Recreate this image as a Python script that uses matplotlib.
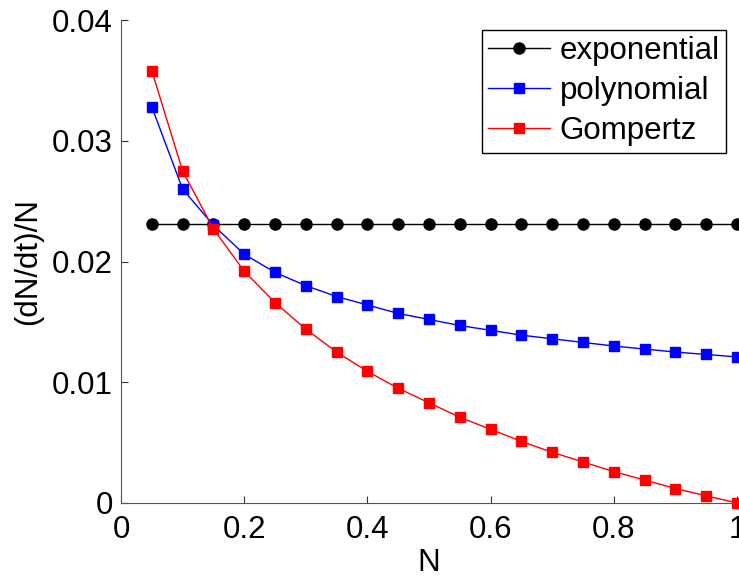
import numpy as np
import matplotlib
matplotlib.use("Agg")
import matplotlib.pyplot as plt

plt.rcParams['font.family'] = ['Liberation Sans', 'DejaVu Sans']

# data
N = np.arange(1, 21) * 0.05
exponential = [0.0231] * 20
polynomial = [0.0328, 0.0260, 0.0230, 0.0206, 0.0191, 0.0180, 0.0171, 0.0164,
              0.0157, 0.0152, 0.0147, 0.0143, 0.0139, 0.0136, 0.0133, 0.0130,
              0.01275, 0.0125, 0.0123, 0.0121]
gompertz = [0.0358, 0.0275, 0.0227, 0.0192, 0.0166, 0.0144, 0.0125, 0.0109,
            0.0095, 0.0083, 0.0071, 0.0061, 0.0051, 0.0042, 0.0034, 0.0026,
            0.0019, 0.0012, 0.0006, 0.0000]

x_ticks = [0, 0.2, 0.4, 0.6, 0.8, 1]
x_labels = ['0', '0.2', '0.4', '0.6', '0.8', '1']
y_ticks = [0, 0.01, 0.02, 0.03, 0.04]
y_labels = ['0', '0.01', '0.02', '0.03', '0.04']

fs = 22.5

fig = plt.figure(figsize=(7.39, 5.77), dpi=100)
ax = fig.add_axes([121 / 739, 74 / 577, 616 / 739, 483 / 577])

ax.plot(N, exponential, '-o', color='black', lw=1, ms=8, label='exponential', clip_on=False)
ax.plot(N, polynomial, '-s', color='blue', lw=1, ms=7, label='polynomial', clip_on=False)
ax.plot(N, gompertz, '-s', color='red', lw=1, ms=7, label='Gompertz', clip_on=False)

ax.set_xlim(0, 1)
ax.set_ylim(0, 0.04)
ax.set_xticks(x_ticks)
ax.set_xticklabels(x_labels)
ax.set_yticks(y_ticks)
ax.set_yticklabels(y_labels)
ax.tick_params(direction='in', length=5, labelsize=fs, width=0.8, color='#333333')
ax.tick_params(axis='x', pad=9)
ax.tick_params(axis='y', pad=6)
for side in ['left', 'bottom']:
    ax.spines[side].set_color('#555555')
ax.spines['top'].set_visible(False)
ax.spines['right'].set_visible(False)
ax.set_xlabel('N', fontsize=fs, labelpad=2)
ax.set_ylabel('(dN/dt)/N', fontsize=fs, labelpad=6)

leg = ax.legend(loc='upper right', bbox_to_anchor=(1.0 - 11 / 616, 1.0 - 10 / 483), fontsize=fs,
                fancybox=False, edgecolor='black', framealpha=1, handlelength=2.0,
                borderpad=0.2, labelspacing=0.32, handletextpad=0.3, borderaxespad=0,
                numpoints=1)
leg.get_frame().set_linewidth(1)

fig.savefig('out.png', dpi=100)
